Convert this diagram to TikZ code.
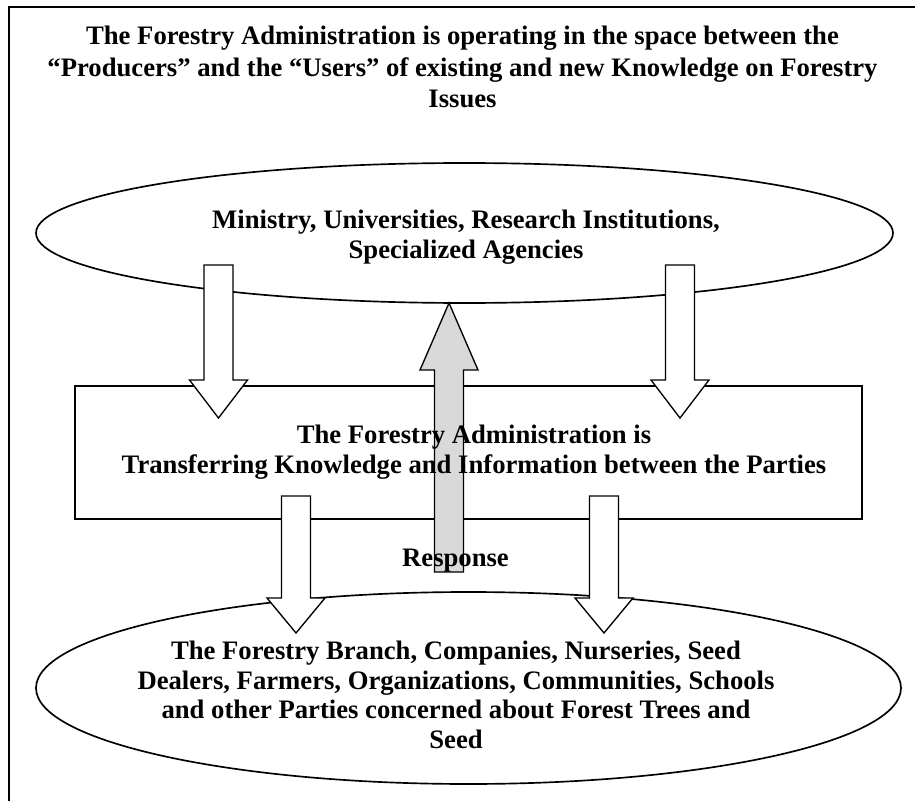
\documentclass[tikz,border=0pt]{standalone}
\usepackage{fontspec}
\setmainfont{Liberation Serif}
\usetikzlibrary{calc}
% fat block arrow: [fill] start, tip, head length (signed)
\newcommand{\fatarrow}[4][white]{%
	\draw[fill=#1, line width=.6pt, line join=miter] ($(#2)+(-14.5,0)$) -- ($(#2)+(14.5,0)$) -- ($(#3)+(14.5,#4)$) -- ($(#3)+(29,#4)$) -- (#3) -- ($(#3)+(-29,#4)$) -- ($(#3)+(-14.5,#4)$) -- cycle;}
\begin{document}
\begin{tikzpicture}[x=.45pt, y=-.45pt, line width=.75pt,
	txt/.style={font=\bfseries\fontsize{12}{13.5}\selectfont, align=center, inner sep=0pt}]
	\useasboundingbox (0,0) rectangle (915,801);
	\draw[line width=.9pt] (9,801) -- (9,7) -- (915,7);
	\coordinate (P) at (464.5,233);
	\coordinate (U) at (468.5,688);
	\draw (P) ellipse (428.5 and 70);
	\draw (U) ellipse (432.5 and 96);
	\draw (75,386) rectangle (862,519);
	% down arrows
	\coordinate (pl) at (218.5,265);	\coordinate (pl') at (218.5,418);
	\coordinate (pr) at (680,265);		\coordinate (pr') at (680,418);
	\coordinate (ul) at (296,496);		\coordinate (ul') at (296,633);
	\coordinate (ur) at (604,496);		\coordinate (ur') at (604,633);
	\fatarrow{pl}{pl'}{-38}
	\fatarrow{pr}{pr'}{-38}
	\fatarrow{ul}{ul'}{-35}
	\fatarrow{ur}{ur'}{-35}
	% response
	\coordinate (r) at (449,572);	\coordinate (r') at (449,303);
	\fatarrow[gray!30]{r}{r'}{67}
	\node[txt, font=\bfseries\fontsize{12}{14}\selectfont] (title) at (462.5,67) {The Forestry Administration is operating in the space between the\\“Producers” and the “Users” of existing and new Knowledge on Forestry\\Issues};
	\node[txt] (prod) at (466,237) {Ministry, Universities, Research Institutions,\\Specialized Agencies};
	\node[txt] (admin) at (474,452) {The Forestry Administration is\\Transferring Knowledge and Information between the Parties};
	\node[txt] (resp) at (455.5,561) {Response};
	\node[txt, font=\bfseries\fontsize{12}{13.3}\selectfont] (users) at (456,695) {The Forestry Branch, Companies, Nurseries, Seed\\Dealers, Farmers, Organizations, Communities, Schools\\and other Parties concerned about Forest Trees and\\Seed};
\end{tikzpicture}
\end{document}
